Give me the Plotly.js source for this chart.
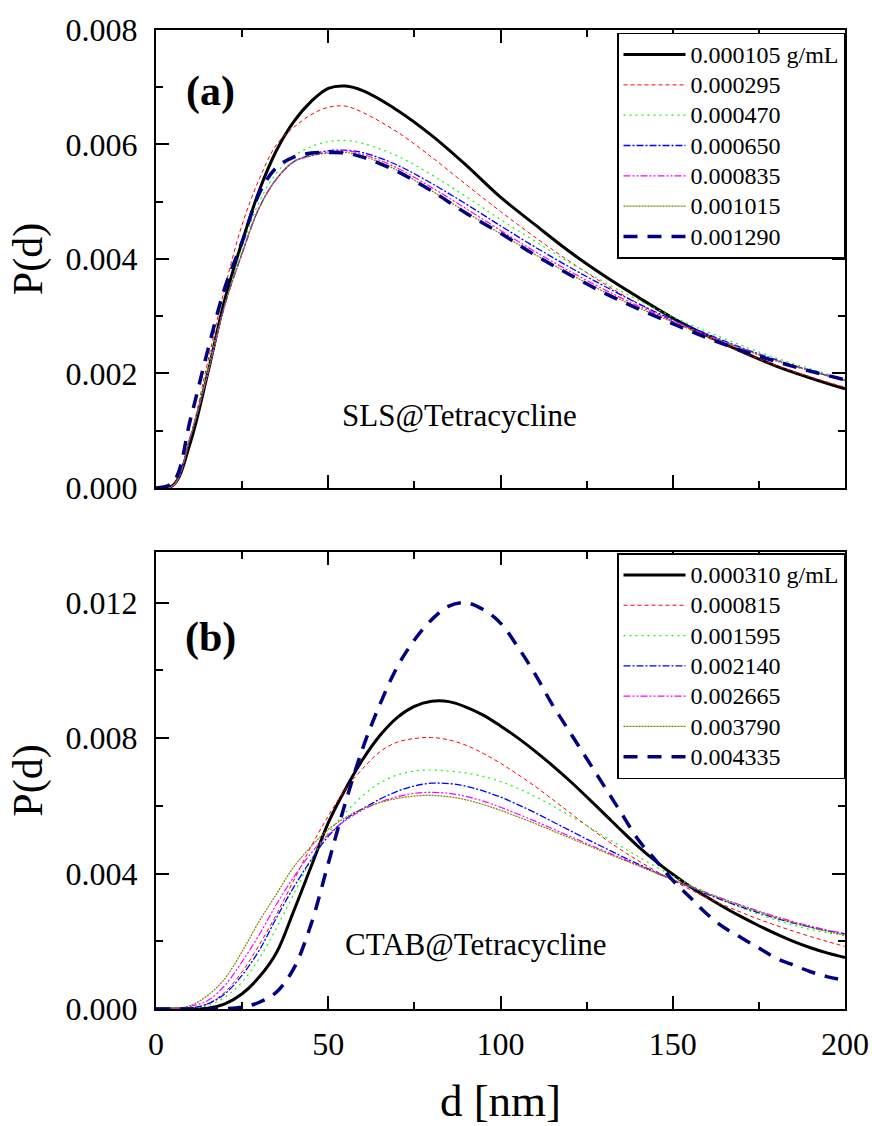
<!DOCTYPE html>
<html>
<head>
<meta charset="utf-8">
<script src="https://cdn.plot.ly/plotly-3.0.1.min.js"></script>
<style>html,body{margin:0;padding:0;background:#fff;}#chart{width:872px;height:1126px;}</style>
</head>
<body>
<div id="chart"></div>
<script>
// ---- data ----
const dTop = [0,5,10,15,20,25,30,35,40,45,50,55,60,70,80,90,100,110,120,130,140,150,160,170,180,190,200];
const namesTop = ["0.000105 g/mL","0.000295","0.000470","0.000650","0.000835","0.001015","0.001290"];
const slsBlack   = [0,0.00005,0.0008,0.0020,0.0033,0.0043,0.0052,0.0059,0.0064,0.00675,0.00698,0.00702,0.00694,0.00660,0.00616,0.00564,0.00508,0.00460,0.00413,0.00371,0.00333,0.00297,0.00266,0.00238,0.00213,0.00192,0.00173];
const slsRed     = [0,0.00006,0.0009,0.0022,0.0035,0.0046,0.0054,0.0060,0.0063,0.00652,0.00665,0.00667,0.00656,0.00622,0.00578,0.00530,0.00483,0.00438,0.00396,0.00357,0.00322,0.00291,0.00263,0.00237,0.00214,0.00194,0.00176];
const slsGreen   = [0,0.00004,0.0009,0.0021,0.0032,0.0042,0.0050,0.0055,0.0058,0.00596,0.00605,0.00607,0.00602,0.00580,0.00547,0.00509,0.00469,0.00431,0.00394,0.00360,0.00328,0.00299,0.00273,0.00249,0.00227,0.00208,0.00190];
const slsBlue    = [0,0.00004,0.0009,0.0020,0.0032,0.0041,0.0049,0.0054,0.0057,0.00582,0.00589,0.00590,0.00586,0.00564,0.00532,0.00496,0.00458,0.00421,0.00386,0.00353,0.00322,0.00294,0.00269,0.00245,0.00224,0.00205,0.00188];
const slsMagenta = [0,0.00004,0.0009,0.0020,0.0032,0.0041,0.0049,0.0054,0.0057,0.00580,0.00587,0.00589,0.00583,0.00559,0.00525,0.00488,0.00450,0.00413,0.00379,0.00347,0.00318,0.00292,0.00267,0.00244,0.00223,0.00205,0.00188];
const slsOlive   = [0,0.00004,0.0009,0.0020,0.0032,0.0041,0.0049,0.0054,0.0057,0.00580,0.00585,0.00586,0.00580,0.00555,0.00519,0.00482,0.00444,0.00408,0.00374,0.00343,0.00315,0.00290,0.00265,0.00243,0.00222,0.00204,0.00187];
const slsNavy    = [0,0.0001,0.0012,0.0024,0.0035,0.0043,0.00515,0.0056,0.00578,0.00585,0.00586,0.00585,0.00578,0.00553,0.00519,0.00480,0.00445,0.00407,0.00373,0.00341,0.00313,0.00287,0.00262,0.00240,0.00221,0.00204,0.00189];

const dBot = [0,5,10,15,20,25,30,35,40,45,50,55,60,65,70,75,80,85,90,95,100,105,110,115,120,125,130,135,140,145,150,155,160,165,170,175,180,185,190,195,200];
const namesBot = ["0.000310 g/mL","0.000815","0.001595","0.002140","0.002665","0.003790","0.004335"];
const ctabBlack   = [0,0,0,0.00002,0.00015,0.00045,0.00095,0.00167,0.0029,0.0042,0.0055,0.0065,0.00737,0.00808,0.00861,0.00894,0.00909,0.00908,0.00892,0.00868,0.00836,0.00801,0.00762,0.0072,0.00675,0.00627,0.00578,0.00528,0.0048,0.00437,0.00398,0.00362,0.0033,0.0030,0.00272,0.00246,0.00222,0.0020,0.00181,0.00165,0.00152];
const ctabRed     = [0,0,0.00001,0.00015,0.0005,0.0011,0.0019,0.0028,0.0038,0.0048,0.0057,0.0065,0.0071,0.0076,0.00788,0.00799,0.00802,0.00795,0.00779,0.00755,0.00726,0.00693,0.00658,0.0062,0.00581,0.00542,0.00505,0.0047,0.00438,0.00408,0.0038,0.00353,0.00328,0.00306,0.00285,0.00265,0.00247,0.0023,0.00214,0.00199,0.00185];
const ctabGreen   = [0,0,0.00002,0.0001,0.00035,0.0008,0.0015,0.0024,0.0034,0.0044,0.0052,0.0058,0.0063,0.00668,0.00691,0.00703,0.00706,0.00703,0.00697,0.00687,0.00672,0.00652,0.00628,0.00601,0.00572,0.00542,0.00511,0.0048,0.0045,0.00421,0.00393,0.00367,0.00343,0.0032,0.00299,0.0028,0.00263,0.00248,0.00235,0.00225,0.00217];
const ctabBlue    = [0,0,0.00003,0.00015,0.00045,0.0010,0.00174,0.0027,0.0036,0.0044,0.0051,0.0056,0.00592,0.0062,0.00643,0.00659,0.00667,0.00666,0.00658,0.00644,0.00626,0.00604,0.0058,0.00554,0.00528,0.00502,0.00477,0.00452,0.00428,0.00404,0.00381,0.0036,0.00339,0.00319,0.00301,0.00284,0.00268,0.00254,0.00242,0.00231,0.00222];
const ctabMagenta = [0,0.00001,0.00008,0.00025,0.0007,0.0014,0.0022,0.0031,0.0039,0.0046,0.00515,0.00557,0.00588,0.00611,0.00627,0.00637,0.0064,0.00637,0.00628,0.00614,0.00596,0.00576,0.00555,0.00533,0.00511,0.00489,0.00467,0.00446,0.00425,0.00404,0.00383,0.00363,0.00343,0.00324,0.00306,0.00289,0.00273,0.00258,0.00245,0.00233,0.00223];
const ctabOlive   = [0,0.00002,0.0001,0.0004,0.0009,0.0017,0.0026,0.0034,0.0042,0.0048,0.0053,0.00566,0.00592,0.0061,0.00622,0.00629,0.00631,0.00627,0.00618,0.00604,0.00587,0.00568,0.00548,0.00527,0.00506,0.00485,0.00464,0.00443,0.00423,0.00402,0.00382,0.00362,0.00342,0.00323,0.00305,0.00287,0.0027,0.00255,0.00241,0.00229,0.00218];
const ctabNavy    = [0,0,0,0,0.00001,0.00005,0.0002,0.0005,0.0012,0.0025,0.0043,0.0061,0.0077,0.0090,0.0101,0.0109,0.0115,0.0119,0.0120,0.0118,0.0114,0.0107,0.0099,0.0090,0.0082,0.0074,0.0066,0.0058,0.0050,0.0044,0.0038,0.0033,0.0028,0.0024,0.0021,0.0018,0.0015,0.0013,0.0011,0.00095,0.00085];

// ---- styles ----
const styles = [
  {color:'#000000', width:3,   dash:'solid'},
  {color:'#ff0000', width:1,   dash:'4px,3px'},
  {color:'#00ff00', width:1.2, dash:'2px,4px'},
  {color:'#0000ff', width:1.3, dash:'7px,2px,2px,2px'},
  {color:'#ff00ff', width:1.2, dash:'7px,2px,2px,2px,2px,2px'},
  {color:'#808000', width:1.2, dash:'2px,1px'},
  {color:'#000080', width:3.5, dash:'14px,10px'}
];
const topSeries = [slsBlack, slsRed, slsGreen, slsBlue, slsMagenta, slsOlive, slsNavy];
const botSeries = [ctabBlack, ctabRed, ctabGreen, ctabBlue, ctabMagenta, ctabOlive, ctabNavy];
const legendName = n => '<span style="font-size:24px">' + n + '</span>';

const traces = [];
topSeries.forEach((ys,i)=>traces.push({x:dTop, y:ys, name:legendName(namesTop[i]), type:'scatter', mode:'lines',
  line:Object.assign({shape:'spline', smoothing:1}, styles[i]), xaxis:'x', yaxis:'y', legend:'legend'}));
botSeries.forEach((ys,i)=>traces.push({x:dBot, y:ys, name:legendName(namesBot[i]), type:'scatter', mode:'lines',
  line:Object.assign({shape:'spline', smoothing:1}, styles[i]), xaxis:'x2', yaxis:'y2', legend:'legend2'}));

const FONT = 'Liberation Serif';
function axisBase(extra){
  return Object.assign({
    ticks:'inside', ticklen:13, tickwidth:2, tickcolor:'#000',
    showline:true, linewidth:2, linecolor:'#000', mirror:'allticks',
    showgrid:false, zeroline:false, tickfont:{family:FONT, size:32, color:'#000'}
  }, extra);
}
const minorX = () => ({dtick:25, ticks:'inside', ticklen:7, tickwidth:2, tickcolor:'#000'});

const legendBase = () => ({
  font:{family:FONT, size:21, color:'#000'}, bgcolor:'#fff', bordercolor:'#000', borderwidth:1.5,
  xref:'paper', yref:'paper', x:1, xanchor:'right', yanchor:'top', itemwidth:62, tracegroupgap:0
});

const layout = {
  width:872, height:1126, paper_bgcolor:'#fff', plot_bgcolor:'#fff',
  font:{family:FONT, color:'#000'},
  margin:{l:156, r:27, t:30, b:117},
  showlegend:true,
  legend:Object.assign(legendBase(), {y:0.997}),
  legend2:Object.assign(legendBase(), {y:0.4655}),
  xaxis:axisBase({domain:[0,1], anchor:'y', range:[0,200], dtick:50, showticklabels:false, minor:minorX()}),
  yaxis:axisBase({domain:[0.5322,1], anchor:'x', range:[0,0.008], dtick:0.002, tickformat:'.3f',
    ticklabelstandoff:10, minor:{dtick:0.001, ticks:'inside', ticklen:7, tickwidth:2, tickcolor:'#000'},
    title:{text:'P(d)', font:{family:FONT, size:42, color:'#000'}, standoff:10}}),
  xaxis2:axisBase({domain:[0,1], anchor:'y2', range:[0,200], dtick:50, minor:minorX(), ticklabelstandoff:6,
    title:{text:'d [nm]', font:{family:FONT, size:45, color:'#000'}, standoff:26}}),
  yaxis2:axisBase({domain:[0,0.4668], anchor:'x2', range:[0,0.0135], dtick:0.004, tickformat:'.3f',
    ticklabelstandoff:10, minor:{dtick:0.002, ticks:'inside', ticklen:7, tickwidth:2, tickcolor:'#000'},
    title:{text:'P(d)', font:{family:FONT, size:42, color:'#000'}, standoff:10}}),
  annotations:[
    {text:'<b>(a)</b>', xref:'x domain', yref:'y domain', x:0.0798, y:0.865, xanchor:'center', yanchor:'middle',
     showarrow:false, font:{family:FONT, size:42, color:'#000'}},
    {text:'<b>(b)</b>', xref:'x2 domain', yref:'y2 domain', x:0.0798, y:0.812, xanchor:'center', yanchor:'middle',
     showarrow:false, font:{family:FONT, size:42, color:'#000'}},
    {text:'SLS@Tetracycline', xref:'x domain', yref:'y domain', x:0.441, y:0.159, xanchor:'center', yanchor:'middle',
     showarrow:false, font:{family:FONT, size:31, color:'#000'}},
    {text:'CTAB@Tetracycline', xref:'x2 domain', yref:'y2 domain', x:0.464, y:0.142, xanchor:'center', yanchor:'middle',
     showarrow:false, font:{family:FONT, size:31, color:'#000'}}
  ]
};

Plotly.newPlot('chart', traces, layout, {displayModeBar:false, staticPlot:true});
</script>
</body>
</html>
